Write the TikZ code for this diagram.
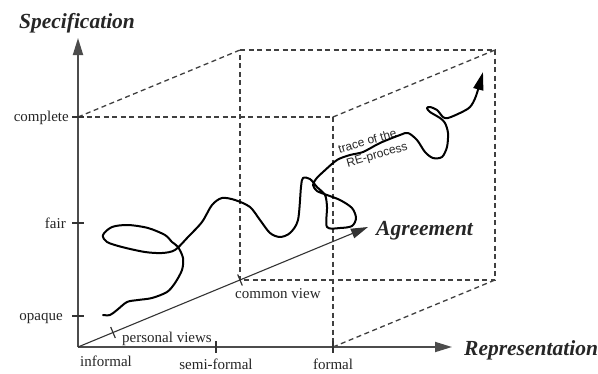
\documentclass[tikz,border=0pt]{standalone}
\usepackage{fontspec}
\setmainfont{Liberation Serif}
\newfontfamily\helv{Liberation Sans}
\usetikzlibrary{arrows.meta}
\begin{document}
\begin{tikzpicture}[x=1pt,y=-1pt,
  axisline/.style={line width=1.8pt, draw=black!70, -{Triangle[length=17pt,width=10pt]}},
  diag/.style={line width=1.1pt, draw=black!80, -{Triangle[length=17pt,width=10pt]}},
  cubeedge/.style={line width=1.3pt, draw=black!75, dash pattern=on 5pt off 3.5pt},
  tickmark/.style={line width=1.2pt, draw=black!80},
  lbl/.style={font=\fontsize{15}{17}\selectfont, inner sep=0pt, text=black!85},
  biglbl/.style={font=\fontsize{21.5}{24}\selectfont\bfseries\itshape, inner sep=0pt, text=black!85},
  tracelbl/.style={font=\helv\fontsize{12}{15.5}\selectfont, inner sep=0pt, rotate=16, align=left, text=black!85},
  trace/.style={line width=2pt, draw=black, line join=round, line cap=round, -{Triangle[length=18pt,width=10pt]}}
]
\useasboundingbox (0,0) rectangle (598,373);
\fill[white] (0,0) rectangle (598,373);

% axes points
\coordinate (O) at (78,347);
\coordinate (Ytip) at (78,38);
\coordinate (Xtip) at (452,347);
\coordinate (Dtip) at (368,227);

% cube corners
\coordinate (B1) at (78,117);
\coordinate (B2) at (333,117);
\coordinate (B3) at (333,347);
\coordinate (F1) at (240,50);
\coordinate (F2) at (495,50);
\coordinate (F3) at (495,280);
\coordinate (F4) at (240,280);

% tick positions
\coordinate (tcomplete) at (78,117);
\coordinate (tfair) at (78,223);
\coordinate (topaque) at (78,316);
\coordinate (tsemi) at (216,347);
\coordinate (tformal) at (333,347);
\coordinate (tpers) at (113,332.5);
\coordinate (tcommon) at (240,280);

% dashed cube
\draw[cubeedge] (B1) -- (B2) -- (B3);
\draw[cubeedge] (B1) -- (F1);
\draw[cubeedge] (B2) -- (F2);
\draw[cubeedge] (B3) -- (F3);
\draw[cubeedge] (F1) -- (F2) -- (F3) -- (F4) -- cycle;

% axes
\draw[axisline] (O) -- (Ytip);
\draw[axisline] (O) -- (Xtip);
\draw[diag] (O) -- (Dtip);

% ticks
\foreach \t in {tcomplete,tfair,topaque}
  \draw[tickmark] (\t) ++(-6,0) -- ++(12,0);
\foreach \t in {tsemi,tformal}
  \draw[tickmark] (\t) ++(0,-6) -- ++(0,12);
\foreach \t in {tpers,tcommon}
  \draw[tickmark] (\t) ++(-2.3,-5.5) -- ++(4.6,11);

% labels
\node[biglbl, anchor=base] (spec) at (77,28) {Specification};
\node[biglbl, anchor=base west] (repr) at (464,355) {Representation};
\node[biglbl, anchor=base west] (agree) at (376,235) {Agreement};
\node[lbl, anchor=base east] (complete) at (69,121) {complete};
\node[lbl, anchor=base east] (fair) at (66,228) {fair};
\node[lbl, anchor=base east] (opaque) at (63,320) {opaque};
\node[lbl, anchor=base west] (informal) at (80,366) {informal};
\node[lbl, anchor=base] (semiformal) at (216,369) {semi-formal};
\node[lbl, anchor=base] (formal) at (333,369) {formal};
\node[lbl, anchor=base west] (personal) at (122,342) {personal views};
\node[lbl, anchor=base west] (common) at (235,298) {common view};
\node[tracelbl] (tracelabel) at (373,148.5) {trace of the\\\hspace*{4pt}RE-process};

% trace of the RE-process
\draw[trace] plot[smooth, tension=0.5] coordinates {
(103,315) (110,315) (117,310) (127,302) (138,300) (152,298) (167,292) (175,283)
(182,270) (183,258) (178,247) (172,242) (165,235) (148,228) (128,225) (112,227)
(103,235) (107,242) (122,247) (145,252) (162,253) (175,250) (188,237) (202,222)
(212,205) (222,198) (235,200) (250,207) (260,220) (270,233) (280,237) (290,233)
(298,220) (301,187) (303,178) (310,179) (317,187) (325,195) (327,207) (327,227)
(340,228) (352,226) (356,218) (352,208) (340,200) (327,195) (317,191) (313,185)
(316,179) (323,172) (337,160) (350,155) (363,152) (380,143) (400,135) (408,133)
(417,140) (425,152) (433,158) (442,157) (447,147) (448,133) (445,123) (440,118)
(430,112) (427,108) (430,107) (437,110) (443,117) (448,118) (460,113) (470,107)
(476,96) (483,72)};
\end{tikzpicture}
\end{document}
